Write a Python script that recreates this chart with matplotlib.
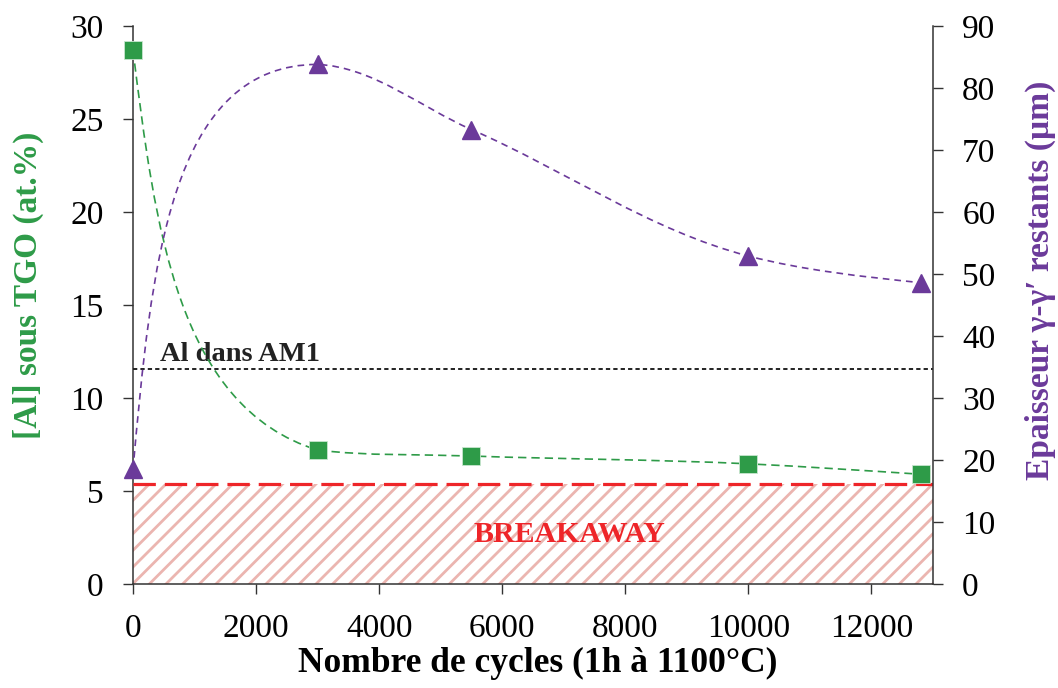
import numpy as np
import matplotlib
matplotlib.use("Agg")
from matplotlib import pyplot as plt
from matplotlib.path import Path
from matplotlib.patches import PathPatch

plt.rcParams['font.family'] = ['Liberation Serif', 'DejaVu Serif']
plt.rcParams['hatch.linewidth'] = 2.0

cycles = [0, 3000, 5500, 10000, 12800]
al_conc = [28.7, 7.2, 6.88, 6.46, 5.9]
thickness = [18.5, 83.8, 73.3, 52.9, 48.6]

al_am1 = 11.55
breakaway = 5.4

green = '#2e9b48'
purple = '#6b3a9a'
red = '#ee2529'
pink = '#ebb5b0'


def smooth_path(x, y, sx, sy):
    # smoothed line: bezier segments built in screen-like space,
    # control points kept inside each segment's y range (no overshoot)
    p = np.column_stack([np.asarray(x, float) * sx, np.asarray(y, float) * sy])
    n = len(p)
    seg = np.diff(p, axis=0)
    h = np.linalg.norm(seg, axis=1)
    u = seg / h[:, None]
    tang = np.zeros_like(p)
    for i in range(1, n - 1):
        t = h[i] * u[i - 1] + h[i - 1] * u[i]
        tang[i] = t / np.linalg.norm(t)
    verts = [p[0]]
    codes = [Path.MOVETO]
    for i in range(n - 1):
        lo, hi = sorted((p[i, 1], p[i + 1, 1]))
        c1 = p[i] + tang[i] * h[i] / 3
        c2 = p[i + 1] - tang[i + 1] * h[i] / 3
        c1[1] = np.clip(c1[1], lo, hi)
        c2[1] = np.clip(c2[1], lo, hi)
        if i == 0:
            c1 = (p[0] + c2) / 2
        if i == n - 2:
            c2 = (c1 + p[-1]) / 2
        verts += [c1, c2, p[i + 1]]
        codes += [Path.CURVE4] * 3
    verts = np.array(verts) / np.array([sx, sy])
    return Path(verts, codes)


fig = plt.figure(figsize=(10.58, 6.88), dpi=100)
ax = fig.add_axes([133 / 1058, 104 / 688, 800 / 1058, 558 / 688])
ax2 = ax.twinx()

xmax, ymax, ymax2 = 13000, 30, 90
ax.set_xlim(0, xmax)
ax.set_ylim(0, ymax)
ax2.set_ylim(0, ymax2)

# breakaway zone
ax.fill_between([0, xmax], 0, breakaway, facecolor='white', edgecolor=pink,
                hatch='//', linewidth=0, zorder=1)
ax.axhline(breakaway, color=red, lw=2.3, dashes=(7, 2.8), zorder=3)
ax.axhline(al_am1, color='#222222', lw=1.4, dashes=(2.2, 1.6), zorder=3)
ax.text(440, 12.0, 'Al dans AM1', fontsize=20.5, fontweight='bold',
        color='#222222', va='baseline', ha='left')
ax.text(7085, 2.65, 'BREAKAWAY', fontsize=21.5, fontweight='bold', color=red,
        ha='center', va='center', zorder=4)

# smoothed curves
gpath = smooth_path(cycles, al_conc, 800 / xmax, 558 / ymax)
ax.add_patch(PathPatch(gpath, fill=False, edgecolor=green, lw=1.2,
                       linestyle=(0, (5, 3)), zorder=4))
ax.plot(cycles, al_conc, 's', color=green, ms=13, mec='#c8e6cf', mew=0.6, zorder=6,
        clip_on=False)

ppath = smooth_path(cycles, thickness, 800 / xmax, 558 / ymax2)
ax2.add_patch(PathPatch(ppath, fill=False, edgecolor=purple, lw=1.2,
                        linestyle=(0, (4, 3)), zorder=4))
ax2.plot(cycles, thickness, '^', color=purple, ms=13, zorder=6, clip_on=False)

# axes styling
for a in (ax, ax2):
    a.spines['top'].set_visible(False)
    for s in a.spines.values():
        s.set_color('#333333')
        s.set_linewidth(1.1)
ax2.spines['left'].set_visible(False)
ax2.spines['bottom'].set_visible(False)
ax.spines['right'].set_visible(False)

ax.set_xticks(range(0, 12001, 2000))
ax.set_yticks(range(0, 31, 5))
ax2.set_yticks(range(0, 91, 10))
ax.tick_params(axis='x', direction='out', length=7, width=1, color='#333333',
               labelsize=24, pad=14)
ax.tick_params(axis='y', direction='out', length=7, width=1, color='#333333',
               labelsize=24, pad=14)
ax2.tick_params(direction='out', length=7, width=1, color='#333333',
                labelsize=24, pad=14)

fig.text(538 / 1058, 1 - 663 / 688, 'Nombre de cycles (1h à 1100°C)',
         fontsize=25.5, fontweight='bold', ha='center', va='center')
fig.text(28 / 1058, 1 - 285 / 688, '[Al] sous TGO (at.%)', fontsize=24,
         fontweight='bold', color=green, rotation=90, ha='center', va='center')
fig.text(1040 / 1058, 1 - 280 / 688, 'Epaisseur γ-γ′ restants (µm)', fontsize=24,
         fontweight='bold', color=purple, rotation=90, ha='center', va='center')

ax2.set_zorder(ax.get_zorder() + 1)
ax2.patch.set_visible(False)

plt.savefig('out.png', dpi=100)
